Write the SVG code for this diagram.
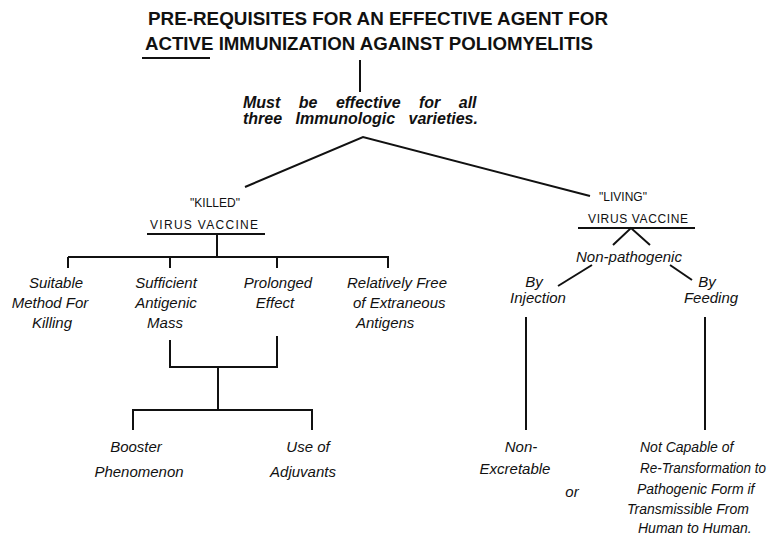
<svg xmlns="http://www.w3.org/2000/svg" width="775" height="536" viewBox="0 0 775 536">
<style>
.title{font-family:"Liberation Sans",Arial,sans-serif;font-weight:bold;font-size:18px;fill:#111}
.hdr{font-family:"Liberation Sans",Arial,sans-serif;font-size:12px;fill:#111}
.sub{font-family:"Liberation Sans",Arial,sans-serif;font-weight:bold;font-style:italic;font-size:16px;fill:#111}
.lbl{font-family:"Liberation Sans",Arial,sans-serif;font-style:italic;font-size:15px;fill:#111}
.sm{font-size:14px}
.c{text-anchor:middle}
.ln{stroke:#111;stroke-width:2;fill:none}
</style>
<rect width="775" height="536" fill="#fff"/>
<g id="title">
<text class="title" x="148" y="25" textLength="460" lengthAdjust="spacingAndGlyphs">PRE-REQUISITES FOR AN EFFECTIVE AGENT FOR</text>
<text class="title" x="145" y="50" textLength="448" lengthAdjust="spacingAndGlyphs">ACTIVE IMMUNIZATION AGAINST POLIOMYELITIS</text>
<line class="ln" x1="142" y1="58" x2="210" y2="58" stroke-width="2.5"/>
</g>
<g id="requirement">
<text class="sub" x="243" y="108" word-spacing="14">Must be effective for all</text>
<text class="sub" x="243" y="124" word-spacing="9">three Immunologic varieties.</text>
</g>
<g id="killed">
<text class="hdr c" x="215" y="207">"KILLED"</text>
<text class="hdr" x="150" y="229" textLength="108" lengthAdjust="spacing">VIRUS VACCINE</text>
<line class="ln" x1="147" y1="234" x2="265" y2="234"/>
</g>
<g id="living">
<text class="hdr c" x="623" y="201">"LIVING"</text>
<text class="hdr" x="588" y="223" textLength="100" lengthAdjust="spacing">VIRUS VACCINE</text>
<line class="ln" x1="578" y1="228" x2="695" y2="228"/>
</g>
<g id="suitable">
<text class="lbl c" x="56" y="288">Suitable</text>
<text class="lbl c" x="50" y="308">Method For</text>
<text class="lbl c" x="52" y="328">Killing</text>
</g>
<g id="sufficient">
<text class="lbl c" x="166" y="288">Sufficient</text>
<text class="lbl c" x="166" y="308">Antigenic</text>
<text class="lbl c" x="165" y="328">Mass</text>
</g>
<g id="prolonged">
<text class="lbl c" x="278" y="288">Prolonged</text>
<text class="lbl c" x="275" y="308">Effect</text>
</g>
<g id="relatively">
<text class="lbl" x="347" y="288">Relatively Free</text>
<text class="lbl" x="353" y="308">of Extraneous</text>
<text class="lbl" x="356" y="328">Antigens</text>
</g>
<g id="booster">
<text class="lbl c" x="136" y="452">Booster</text>
<text class="lbl c" x="139" y="477">Phenomenon</text>
</g>
<g id="adjuvants">
<text class="lbl c" x="308" y="452">Use of</text>
<text class="lbl c" x="303" y="477">Adjuvants</text>
</g>
<g id="nonpathogenic">
<text class="lbl c" x="629" y="262">Non-pathogenic</text>
</g>
<g id="injection">
<text class="lbl c" x="534" y="287">By</text>
<text class="lbl c" x="538" y="303">Injection</text>
</g>
<g id="feeding">
<text class="lbl c" x="707" y="287">By</text>
<text class="lbl c" x="711" y="303">Feeding</text>
</g>
<g id="nonexcretable">
<text class="lbl c" x="521" y="452">Non-</text>
<text class="lbl c" x="515" y="474">Excretable</text>
</g>
<g id="or">
<text class="lbl c" x="572" y="497">or</text>
</g>
<g id="notcapable">
<text class="lbl sm" x="640" y="452">Not Capable of</text>
<text class="lbl sm" x="640" y="473" textLength="126" lengthAdjust="spacingAndGlyphs">Re-Transformation to</text>
<text class="lbl sm" x="637" y="494">Pathogenic Form if</text>
<text class="lbl sm" x="627" y="514">Transmissible From</text>
<text class="lbl sm" x="638" y="533">Human to Human.</text>
</g>
<g id="connectors">
<line class="ln" x1="360" y1="60" x2="360" y2="92"/>
<polyline class="ln" points="245,187 363,137 590,196"/>
<line class="ln" x1="217" y1="234" x2="217" y2="257"/>
<line class="ln" x1="68" y1="257" x2="388" y2="257"/>
<line class="ln" x1="68" y1="257" x2="68" y2="268"/>
<line class="ln" x1="170" y1="257" x2="170" y2="268"/>
<line class="ln" x1="277" y1="257" x2="277" y2="268"/>
<line class="ln" x1="388" y1="256" x2="388" y2="268"/>
<polyline class="ln" points="170,340 170,367 277,367 277,336"/>
<line class="ln" x1="218" y1="367" x2="218" y2="410"/>
<polyline class="ln" points="133,430 133,410 312,410 312,430"/>
<polyline class="ln" points="613,245 631,228 650,245"/>
<line class="ln" x1="592" y1="265" x2="558" y2="286"/>
<line class="ln" x1="670" y1="265" x2="692" y2="280"/>
<line class="ln" x1="526" y1="317" x2="526" y2="430"/>
<line class="ln" x1="705" y1="317" x2="705" y2="430"/>
</g>
</svg>
